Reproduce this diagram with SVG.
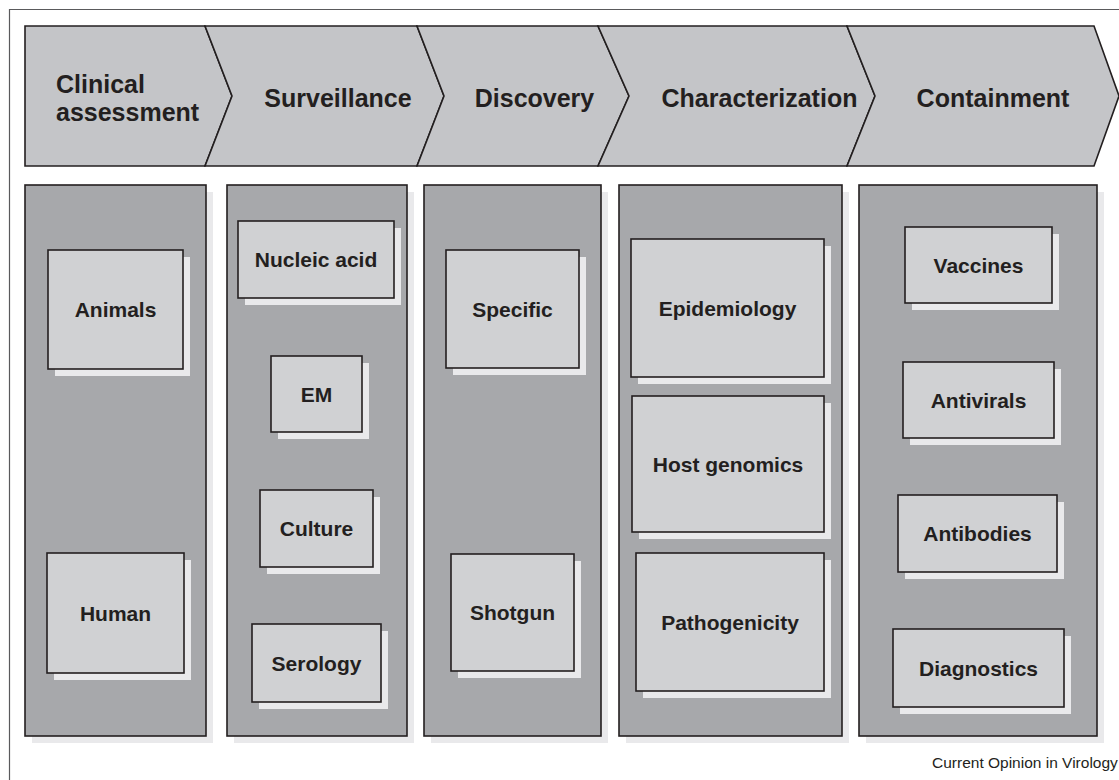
<svg xmlns="http://www.w3.org/2000/svg" width="1119" height="780" viewBox="0 0 1119 780">
<style>
.frame{fill:none;stroke:#5a5a5c;stroke-width:1.2}
.chev{fill:#c4c5c8;stroke:#231f20;stroke-width:1.6;stroke-linejoin:miter}
.col{fill:#a7a8ab;stroke:#231f20;stroke-width:1.6}
.box{fill:#d0d1d3;stroke:#231f20;stroke-width:1.6}
.shadow{fill:#e9e9eb}
.h{font-family:"Liberation Sans",Arial,sans-serif;font-weight:bold;font-size:25px;fill:#231f20}
.t{font-family:"Liberation Sans",Arial,sans-serif;font-weight:bold;font-size:21px;fill:#231f20;text-anchor:middle}
.foot{font-family:"Liberation Sans",Arial,sans-serif;font-size:15.5px;fill:#231f20}
</style>
<path class="frame" d="M9.5,780 V9.5 H1119"/>
<g id="stages">
<g id="stage-clinical">
<polygon class="chev" points="25,26 205,26 232,96 205,166 25,166"/>
<text class="h" x="56" y="93">Clinical</text>
<text class="h" x="56" y="121">assessment</text>
</g>
<g id="stage-surveillance">
<polygon class="chev" points="205,26 417,26 444,96 417,166 205,166 232,96"/>
<text class="h" x="338" y="107" text-anchor="middle">Surveillance</text>
</g>
<g id="stage-discovery">
<polygon class="chev" points="417,26 598,26 629,96 598,166 417,166 444,96"/>
<text class="h" x="534.5" y="107" text-anchor="middle">Discovery</text>
</g>
<g id="stage-characterization">
<polygon class="chev" points="598,26 847,26 875,96 847,166 598,166 629,96"/>
<text class="h" x="759.5" y="107" text-anchor="middle">Characterization</text>
</g>
<g id="stage-containment">
<polygon class="chev" points="847,26 1094,26 1119,96 1094,166 847,166 875,96"/>
<text class="h" x="993" y="107" text-anchor="middle">Containment</text>
</g>
</g>
<g id="columns">
<g id="col-clinical">
<rect class="shadow" x="32" y="192" width="181" height="551"/>
<rect class="col" x="25" y="185" width="181" height="551"/>
</g>
<g id="col-surveillance">
<rect class="shadow" x="234" y="192" width="180" height="551"/>
<rect class="col" x="227" y="185" width="180" height="551"/>
</g>
<g id="col-discovery">
<rect class="shadow" x="431" y="192" width="177" height="551"/>
<rect class="col" x="424" y="185" width="177" height="551"/>
</g>
<g id="col-characterization">
<rect class="shadow" x="626" y="192" width="223" height="551"/>
<rect class="col" x="619" y="185" width="223" height="551"/>
</g>
<g id="col-containment">
<rect class="shadow" x="866" y="192" width="238" height="551"/>
<rect class="col" x="859" y="185" width="238" height="551"/>
</g>
</g>
<g id="connectors"></g>
<g id="node-animals">
<rect class="shadow" x="55" y="257" width="135" height="119"/>
<rect class="box" x="48" y="250" width="135" height="119"/>
<text class="t" x="115.5" y="317">Animals</text>
</g>
<g id="node-human">
<rect class="shadow" x="54" y="560" width="137" height="120"/>
<rect class="box" x="47" y="553" width="137" height="120"/>
<text class="t" x="115.5" y="620.5">Human</text>
</g>
<g id="node-nucleic-acid">
<rect class="shadow" x="245" y="228" width="156" height="77"/>
<rect class="box" x="238" y="221" width="156" height="77"/>
<text class="t" x="316" y="267">Nucleic acid</text>
</g>
<g id="node-em">
<rect class="shadow" x="278" y="363" width="91" height="76"/>
<rect class="box" x="271" y="356" width="91" height="76"/>
<text class="t" x="316.5" y="401.5">EM</text>
</g>
<g id="node-culture">
<rect class="shadow" x="267" y="497" width="113" height="77"/>
<rect class="box" x="260" y="490" width="113" height="77"/>
<text class="t" x="316.5" y="536">Culture</text>
</g>
<g id="node-serology">
<rect class="shadow" x="259" y="631" width="129" height="78"/>
<rect class="box" x="252" y="624" width="129" height="78"/>
<text class="t" x="316.5" y="670.5">Serology</text>
</g>
<g id="node-specific">
<rect class="shadow" x="453" y="257" width="133" height="118"/>
<rect class="box" x="446" y="250" width="133" height="118"/>
<text class="t" x="512.5" y="316.5">Specific</text>
</g>
<g id="node-shotgun">
<rect class="shadow" x="458" y="561" width="123" height="117"/>
<rect class="box" x="451" y="554" width="123" height="117"/>
<text class="t" x="512.5" y="620">Shotgun</text>
</g>
<g id="node-epidemiology">
<rect class="shadow" x="638" y="246" width="193" height="138"/>
<rect class="box" x="631" y="239" width="193" height="138"/>
<text class="t" x="727.5" y="315.5">Epidemiology</text>
</g>
<g id="node-host-genomics">
<rect class="shadow" x="639" y="403" width="192" height="136"/>
<rect class="box" x="632" y="396" width="192" height="136"/>
<text class="t" x="728" y="471.5">Host genomics</text>
</g>
<g id="node-pathogenicity">
<rect class="shadow" x="643" y="560" width="188" height="138"/>
<rect class="box" x="636" y="553" width="188" height="138"/>
<text class="t" x="730" y="629.5">Pathogenicity</text>
</g>
<g id="node-vaccines">
<rect class="shadow" x="912" y="234" width="147" height="76"/>
<rect class="box" x="905" y="227" width="147" height="76"/>
<text class="t" x="978.5" y="272.5">Vaccines</text>
</g>
<g id="node-antivirals">
<rect class="shadow" x="910" y="369" width="151" height="76"/>
<rect class="box" x="903" y="362" width="151" height="76"/>
<text class="t" x="978.5" y="407.5">Antivirals</text>
</g>
<g id="node-antibodies">
<rect class="shadow" x="905" y="502" width="159" height="77"/>
<rect class="box" x="898" y="495" width="159" height="77"/>
<text class="t" x="977.5" y="541">Antibodies</text>
</g>
<g id="node-diagnostics">
<rect class="shadow" x="900" y="636" width="171" height="78"/>
<rect class="box" x="893" y="629" width="171" height="78"/>
<text class="t" x="978.5" y="675.5">Diagnostics</text>
</g>
<text class="foot" x="932" y="768">Current Opinion in Virology</text>
</svg>
